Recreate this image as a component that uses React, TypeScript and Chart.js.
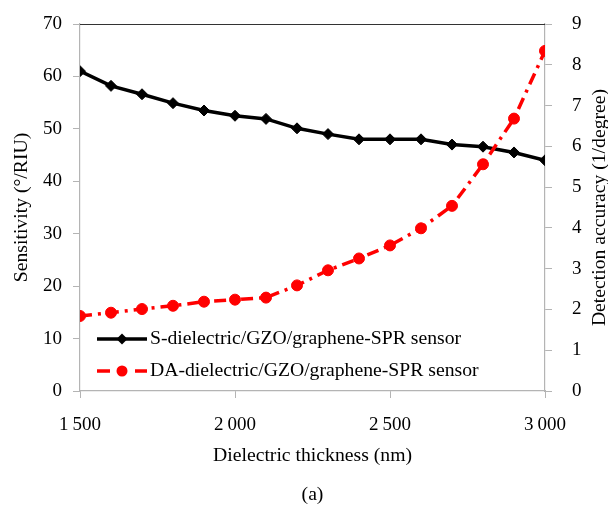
import React, { useEffect, useRef } from "react";
import { Chart, registerables } from "chart.js";

Chart.register(...registerables);

const thickness = [1500, 1600, 1700, 1800, 1900, 2000, 2100, 2200, 2300, 2400, 2500, 2600, 2700, 2800, 2900, 3000];
const sensitivity = [61.0, 58.2, 56.6, 54.9, 53.5, 52.5, 51.9, 50.1, 49.0, 48.0, 48.0, 48.0, 47.0, 46.6, 45.5, 44.0];
const detectionAccuracy = [1.84, 1.92, 2.01, 2.09, 2.19, 2.24, 2.29, 2.59, 2.96, 3.25, 3.57, 3.99, 4.54, 5.56, 6.68, 8.34];
const xTickValues = [1500, 2000, 2500, 3000];
const xTickLabels = ["1\u2009500", "2\u2009000", "2\u2009500", "3\u2009000"];
const seriesLabels = ["S-dielectric/GZO/graphene-SPR sensor", "DA-dielectric/GZO/graphene-SPR sensor"];
const xTitle = "Dielectric thickness (nm)";
const figureLabel = "(a)";
const yTitle = "Sensitivity (°/RIU)";
const y1Title = "Detection accuracy (1/degree)";

const FONT = "'Liberation Serif', 'Times New Roman', serif";
const RED = "#ff0000";
const AXIS_GRAY = "#b4b4b4";
const RED_DASH = [12, 6, 3, 6];
const TITLE_SIZE = 19.7;

const overlayPlugin = {
  id: "overlay",
  afterDraw(chart: any) {
    const { ctx, chartArea } = chart;
    ctx.save();
    // top border
    ctx.strokeStyle = "#333333";
    ctx.lineWidth = 1.2;
    ctx.beginPath();
    ctx.moveTo(chartArea.left, chartArea.top + 0.5);
    ctx.lineTo(chartArea.right, chartArea.top + 0.5);
    ctx.stroke();

    // right axis title (reads bottom-to-top)
    ctx.save();
    ctx.translate(599.5, (chartArea.top + chartArea.bottom) / 2);
    ctx.rotate(-Math.PI / 2);
    ctx.fillStyle = "#000";
    ctx.font = `${TITLE_SIZE}px ${FONT}`;
    ctx.textAlign = "center";
    ctx.textBaseline = "middle";
    ctx.fillText(y1Title, 0, 0);
    ctx.restore();

    // legend
    const x0 = chartArea.left + 17;
    const x1 = chartArea.left + 67;
    const mx = (x0 + x1) / 2;
    const ly1 = 339;
    const ly2 = 371;
    ctx.strokeStyle = "#000";
    ctx.lineWidth = 3.5;
    ctx.setLineDash([]);
    ctx.beginPath();
    ctx.moveTo(x0, ly1);
    ctx.lineTo(x1, ly1);
    ctx.stroke();
    ctx.fillStyle = "#000";
    ctx.beginPath();
    ctx.moveTo(mx - 5.5, ly1);
    ctx.lineTo(mx, ly1 - 5.5);
    ctx.lineTo(mx + 5.5, ly1);
    ctx.lineTo(mx, ly1 + 5.5);
    ctx.closePath();
    ctx.fill();
    ctx.strokeStyle = RED;
    ctx.lineWidth = 3.5;
    ctx.beginPath();
    ctx.moveTo(x0, ly2);
    ctx.lineTo(x0 + 13, ly2);
    ctx.moveTo(x1 - 12, ly2);
    ctx.lineTo(x1, ly2);
    ctx.stroke();
    ctx.fillStyle = RED;
    ctx.beginPath();
    ctx.arc(mx, ly2, 5.5, 0, Math.PI * 2);
    ctx.fill();

    ctx.fillStyle = "#000";
    ctx.font = `${TITLE_SIZE}px ${FONT}`;
    ctx.textAlign = "left";
    ctx.textBaseline = "middle";
    ctx.fillText(seriesLabels[0], x1 + 3, ly1);
    ctx.fillText(seriesLabels[1], x1 + 3, ly2);
    ctx.restore();
  },
};

const fixVertical = (width: number) => (s: any) => {
  s.width = width;
  s.paddingTop = 0;
  s.paddingBottom = 0;
};

export default function App() {
  const canvasRef = useRef<HTMLCanvasElement | null>(null);

  useEffect(() => {
    document.body.style.margin = "0";
    const canvas = canvasRef.current;
    if (!canvas) return;
    const chart = new Chart(canvas, {
      type: "line",
      data: {
        datasets: [
          {
            label: seriesLabels[0],
            data: thickness.map((t, i) => ({ x: t, y: sensitivity[i] })),
            yAxisID: "y",
            borderColor: "#000",
            backgroundColor: "#000",
            borderWidth: 3.5,
            pointStyle: "rectRot",
            pointRadius: 5.5,
            pointBorderWidth: 1,
            pointBackgroundColor: "#000",
            pointBorderColor: "#000",
            tension: 0,
            order: 1,
          },
          {
            label: seriesLabels[1],
            data: thickness.map((t, i) => ({ x: t, y: detectionAccuracy[i] })),
            yAxisID: "y1",
            borderColor: RED,
            backgroundColor: RED,
            borderWidth: 3.5,
            borderDash: RED_DASH,
            pointStyle: "circle",
            pointRadius: 5.5,
            pointBorderWidth: 1,
            pointBackgroundColor: RED,
            pointBorderColor: RED,
            tension: 0,
            order: 0,
          },
        ],
      },
      options: {
        responsive: false,
        animation: false,
        events: [],
        layout: { padding: { top: 24, left: 0, right: 0, bottom: 0 } },
        plugins: {
          legend: { display: false },
          tooltip: { enabled: false },
        },
        scales: {
          x: {
            type: "linear",
            min: 1500,
            max: 3000,
            afterFit: (s: any) => {
              s.height = 119;
              s.paddingLeft = 0;
              s.paddingRight = 0;
            },
            afterBuildTicks: (s: any) => {
              s.ticks = xTickValues.map((v) => ({ value: v }));
            },
            ticks: {
              autoSkip: false,
              maxRotation: 0,
              padding: 16,
              color: "#000",
              font: { family: FONT, size: 19 },
              callback: (v: any) => {
                const idx = xTickValues.indexOf(Number(v));
                return idx >= 0 ? xTickLabels[idx] : "";
              },
            },
            grid: { drawOnChartArea: false, color: AXIS_GRAY, tickLength: 7 },
            border: { color: AXIS_GRAY, width: 1.2 },
            title: {
              display: true,
              text: [xTitle, "", figureLabel],
              color: "#000",
              font: { family: FONT, size: TITLE_SIZE, lineHeight: 1 },
              padding: { top: 0, bottom: 5 },
            },
          },
          y: {
            type: "linear",
            position: "left",
            min: 0,
            max: 70,
            afterFit: fixVertical(80),
            ticks: {
              stepSize: 10,
              padding: 11,
              color: "#000",
              font: { family: FONT, size: 19 },
            },
            grid: { drawOnChartArea: false, color: AXIS_GRAY, tickLength: 7 },
            border: { color: AXIS_GRAY, width: 1.2 },
            title: {
              display: true,
              text: yTitle,
              color: "#000",
              font: { family: FONT, size: TITLE_SIZE, lineHeight: 1 },
              padding: { top: 12, bottom: 0 },
            },
          },
          y1: {
            type: "linear",
            position: "right",
            min: 0,
            max: 9,
            afterFit: fixVertical(63),
            ticks: {
              stepSize: 1,
              padding: 20,
              color: "#000",
              font: { family: FONT, size: 19 },
            },
            grid: { drawOnChartArea: false, color: AXIS_GRAY, tickLength: 7 },
            border: { color: AXIS_GRAY, width: 1.2 },
            title: { display: false },
          },
        },
      },
      plugins: [overlayPlugin],
    });
    return () => chart.destroy();
  }, []);

  return (
    <div style={{ width: 608, height: 510, background: "#fff" }}>
      <canvas ref={canvasRef} width={608} height={510} style={{ width: 608, height: 510, display: "block" }} />
    </div>
  );
}
